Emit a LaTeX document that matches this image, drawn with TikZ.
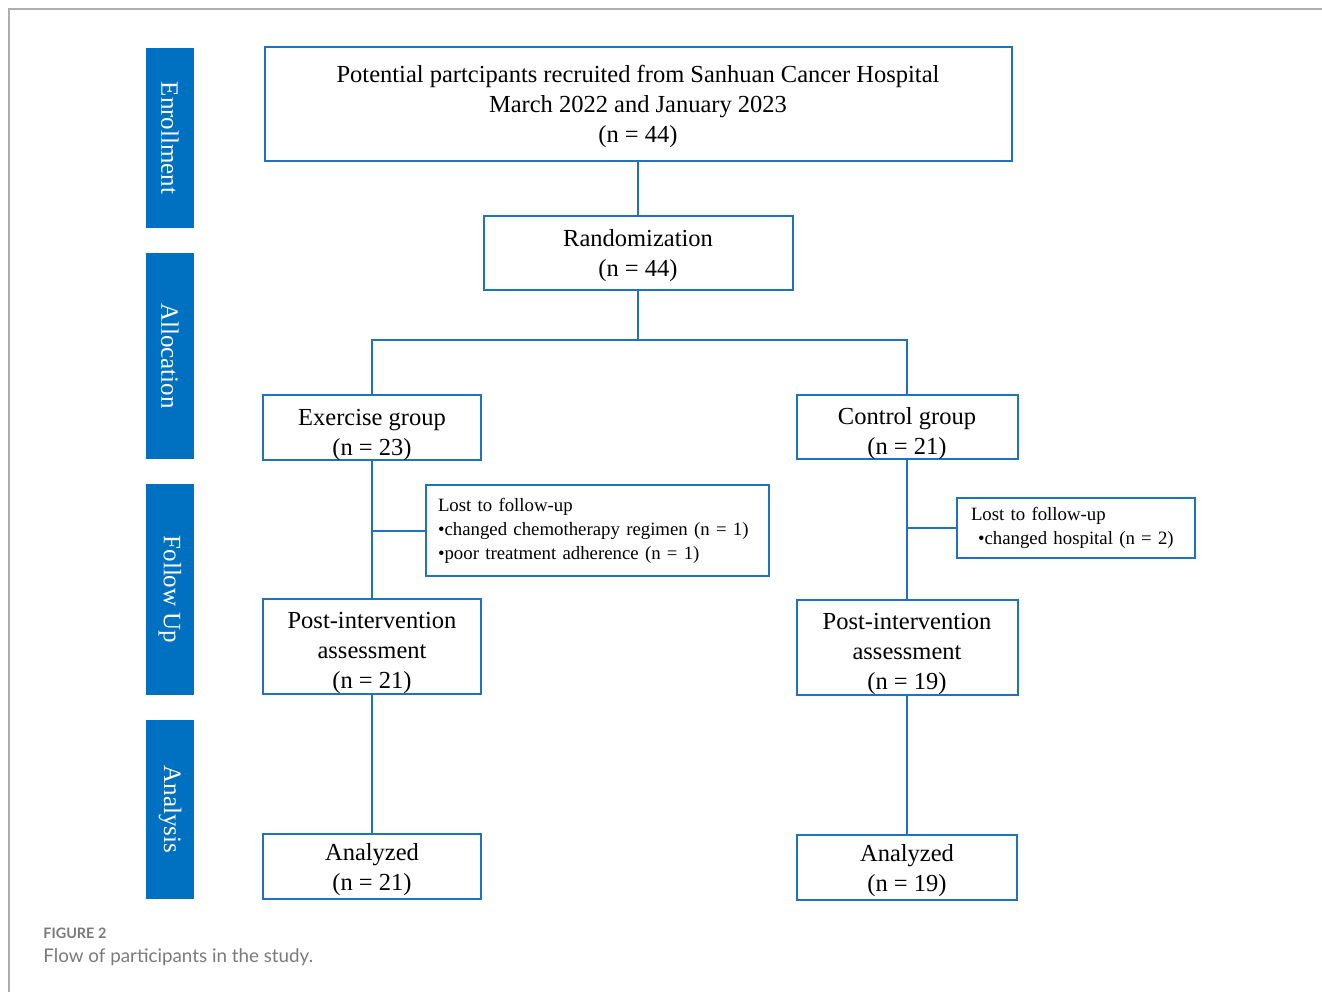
\documentclass[tikz,border=0pt]{standalone}
\usepackage{fontspec}
\setmainfont{Liberation Serif}
\newfontfamily\capfont{Lato}
\usetikzlibrary{positioning}
\definecolor{barblue}{HTML}{0070C0}
\definecolor{boxline}{HTML}{1F72C0}
\definecolor{framec}{HTML}{ADADAD}
\definecolor{capc}{HTML}{7A7A7A}
\tikzset{
  stagebar/.style={fill=barblue, draw=none, rotate=-90, minimum height=24pt, inner sep=0pt,
               text=white, font=\fontsize{12.5}{15}\selectfont},
  flowbox/.style={draw=boxline, line width=1pt, align=center, inner sep=0pt, text depth=0pt,
               font=\fontsize{12.25}{15}\selectfont},
  lostbox/.style={draw=boxline, line width=1pt, align=left, inner xsep=6pt, inner ysep=0pt,
               font=\fontsize{9.4}{12}\selectfont},
  link/.style={draw=boxline, line width=1pt},
  captag/.style={anchor=west, inner sep=0pt, text=capc, font=\capfont\bfseries\fontsize{7.2}{8}\selectfont},
  captext/.style={anchor=west, inner sep=0pt, text=capc, font=\capfont\fontsize{9.4}{11}\selectfont},
}
\def\cL{372}
\def\cM{638}
\def\cR{907}
\def\xS{170}
\newcommand{\stage}[4]{%
  \node[stagebar, minimum width=#3] (#1) at (\xS,#2) {#4};}
\newcommand{\topgap}[1]{\rule{0pt}{#1}}

\begin{document}
\begin{tikzpicture}[x=0.5pt, y=-0.5pt]
  \useasboundingbox (0,0) rectangle (1322,992);
  \draw[framec, line width=1pt] (9,992) -- (9,9) -- (1322,9);
  % stages on the left
  \stage{enrol}{138}{90pt}{Enrollment}
  \stage{alloc}{356}{103pt}{Allocation}
  \stage{follow}{589.5}{105.5pt}{Follow Up}
  \stage{anal}{809.5}{89.5pt}{Analysis}
  % boxes
  \node[flowbox, minimum width=373.5pt, minimum height=57pt] (recruit) at (\cM,104)
    {Potential partcipants recruited from Sanhuan Cancer Hospital\\March 2022 and January 2023\\(n = 44)};
  \node[flowbox, minimum width=154.5pt, minimum height=37pt] (rand) at (\cM,253)
    {Randomization\\(n = 44)};
  \node[flowbox, minimum width=109pt, minimum height=32.5pt] (ex) at (\cL,427.5)
    {\topgap{12.9pt}Exercise group\\(n = 23)};
  \node[flowbox, minimum width=110.5pt, minimum height=32pt] (ctl) at (\cR,427)
    {\topgap{12.9pt}Control group\\(n = 21)};
  \node[lostbox, text width=159.5pt, minimum height=45.5pt] (lostex) at (597.5,530.5)
    {Lost to follow-up\\•changed chemotherapy regimen (n = 1)\\•poor treatment adherence (n = 1)};
  \node[lostbox, text width=105pt, inner xsep=7pt, minimum height=30pt] (lostctl) at (1076,528)
    {Lost to follow-up\\\hspace*{3.5pt}•changed hospital (n = 2)};
  \node[flowbox, minimum width=109pt, minimum height=47.5pt] (postex) at (\cL,646.5)
    {\topgap{11.9pt}Post-intervention\\assessment\\(n = 21)};
  \node[flowbox, minimum width=110.5pt, minimum height=47.5pt] (postctl) at (\cR,647.5)
    {\topgap{11.9pt}Post-intervention\\assessment\\(n = 19)};
  \node[flowbox, minimum width=109pt, minimum height=32.5pt] (anex) at (\cL,866.5)
    {Analyzed\\(n = 21)};
  \node[flowbox, minimum width=110pt, minimum height=32.5pt] (anctl) at (\cR,867.5)
    {Analyzed\\(n = 19)};
  % connectors
  \coordinate (split) at (\cM,340);
  \draw[link] (recruit) -- (rand);
  \draw[link] (rand) -- (split);
  \draw[link] (ex.north) |- (split) -| (ctl.north);
  \draw[link] (ex) -- (postex);
  \draw[link] (ctl) -- (postctl);
  \draw[link] (lostex.west) -- (lostex.west -| ex);
  \draw[link] (lostctl.west) -- (lostctl.west -| ctl);
  \draw[link] (postex) -- (anex);
  \draw[link] (postctl) -- (anctl);
  % caption
  \node[captag] (figtag) at (43,933) {FIGURE 2};
  \node[captext] (figtext) at (43,957) {Flow of participants in the study.};
\end{tikzpicture}
\end{document}
